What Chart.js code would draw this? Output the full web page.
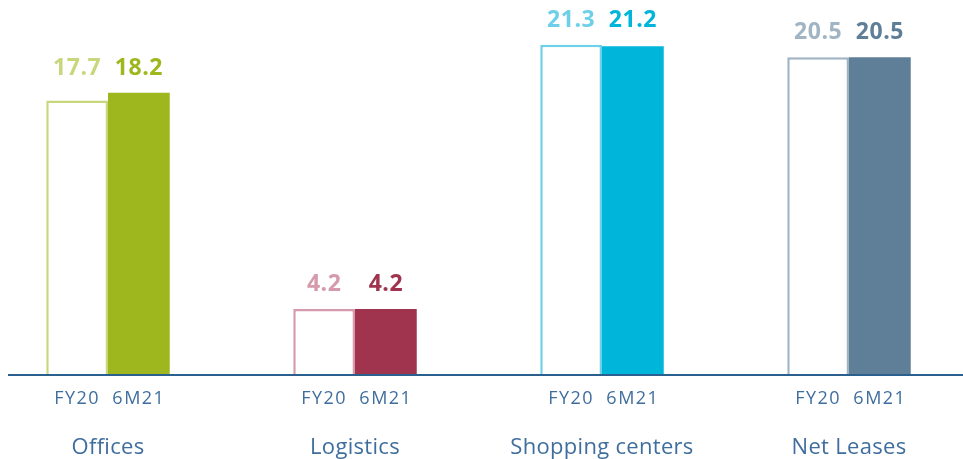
<!DOCTYPE html>
<html>
<head>
<meta charset="utf-8">
<script src="https://cdn.jsdelivr.net/npm/chart.js@4.4.1/dist/chart.umd.min.js"></script>
<style>
  html, body { margin: 0; padding: 0; background: #fff; }
  #wrap { width: 963px; height: 459px; }
</style>
</head>
<body>
<div id="wrap"><canvas id="chart"></canvas></div>
<script>
// data
const categories = ['Offices', 'Logistics', 'Shopping centers', 'Net Leases'];
const periods = ['FY20', '6M21'];
const fy20Values = [17.7, 4.2, 21.3, 20.5];
const m621Values = [18.2, 4.2, 21.2, 20.5];

// colours per category
const solidColors = ['#9fb71f', '#a0344f', '#00b5da', '#5f7f99'];
const lightColors = ['#c8d67c', '#d59aab', '#6dd0e8', '#a0b4c4'];

const axisColor = '#2b5f8e';
const labelColor = '#3f6e9e';
const fontFamily = '"Open Sans", "Noto Sans", sans-serif';

// value labels above bars, period + category labels under bars, baseline across the page
const barLabels = {
  id: 'barLabels',
  afterDatasetsDraw(chart) {
    const ctx = chart.ctx;
    const x = chart.scales.x;
    const y = chart.scales.y;
    const base = y.getPixelForValue(0);

    ctx.save();
    ctx.strokeStyle = axisColor;
    ctx.lineWidth = 2;
    ctx.beginPath();
    ctx.moveTo(8, base + 1);
    ctx.lineTo(chart.width, base + 1);
    ctx.stroke();

    ctx.textAlign = 'center';
    chart.data.datasets.forEach((ds, di) => {
      const meta = chart.getDatasetMeta(di);
      meta.data.forEach((bar, i) => {
        const groupMax = Math.max(fy20Values[i], m621Values[i]);
        ctx.letterSpacing = '0.5px';
        ctx.font = 'bold 23px ' + fontFamily;
        ctx.fillStyle = di === 0 ? lightColors[i] : solidColors[i];
        ctx.textBaseline = 'alphabetic';
        ctx.fillText(ds.data[i].toFixed(1), bar.x, y.getPixelForValue(groupMax) - 18);

        ctx.letterSpacing = '1.5px';
        ctx.font = '18px ' + fontFamily;
        ctx.fillStyle = labelColor;
        ctx.textBaseline = 'middle';
        ctx.fillText(periods[di], bar.x, base + 25);
      });
    });

    ctx.letterSpacing = '0.3px';
    ctx.font = '22px ' + fontFamily;
    ctx.fillStyle = labelColor;
    ctx.textBaseline = 'middle';
    categories.forEach((c, i) => {
      ctx.fillText(c, x.getPixelForTick(i), base + 74);
    });
    ctx.restore();
  }
};

new Chart(document.getElementById('chart'), {
  type: 'bar',
  data: {
    labels: categories,
    datasets: [
      {
        label: periods[0],
        data: fy20Values,
        backgroundColor: '#ffffff',
        borderColor: lightColors,
        borderWidth: 2.5,
        clip: false
      },
      {
        label: periods[1],
        data: m621Values,
        backgroundColor: solidColors,
        borderWidth: 0,
        clip: false
      }
    ]
  },
  options: {
    responsive: true,
    maintainAspectRatio: false,
    animation: false,
    categoryPercentage: 0.5,
    barPercentage: 1.0,
    layout: { padding: { left: 108, right: 114, top: 0, bottom: 85 } },
    plugins: {
      legend: { display: false },
      tooltip: { enabled: false }
    },
    scales: {
      x: {
        display: false,
        offset: false
      },
      y: {
        display: false,
        min: 0,
        max: 24.2
      }
    }
  },
  plugins: [barLabels]
});
</script>
</body>
</html>
